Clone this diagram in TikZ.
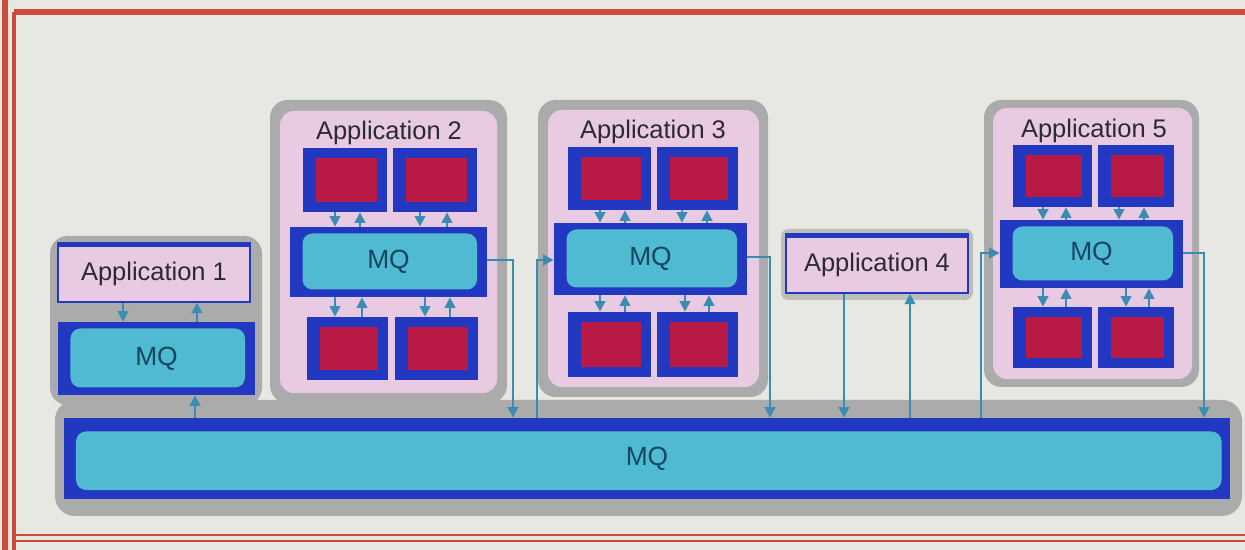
\documentclass[tikz,border=0pt]{standalone}
\usepackage{fontspec}
\setmainfont{Liberation Sans}
\usetikzlibrary{fit,arrows.meta}
\definecolor{bgc}{HTML}{E8E8E3}
\definecolor{framec}{HTML}{CC4A3C}
\definecolor{shadowc}{HTML}{ABABAB}
\definecolor{lshadowc}{HTML}{BDBDBA}
\definecolor{pinkc}{HTML}{E9CAE3}
\definecolor{bblue}{HTML}{2338C0}
\definecolor{cyanc}{HTML}{50BAD3}
\definecolor{redc}{HTML}{B81A45}
\definecolor{arrc}{HTML}{3A8CB3}
\definecolor{txtc}{HTML}{2A2A34}
\definecolor{mqtxtc}{HTML}{17465F}
\begin{document}
\begin{tikzpicture}[x=0.02cm,y=-0.02cm,
  grp/.style={fill=shadowc, rounded corners=0.35cm, inner sep=0pt},
  lgrp/.style={fill=lshadowc, rounded corners=0.15cm, inner sep=0pt},
  pinkgrp/.style={fill=pinkc, rounded corners=0.28cm, inner sep=0pt},
  apptext/.style={text=txtc, font=\fontsize{14.5}{17}\selectfont, inner sep=0pt},
  mqtext/.style={text=mqtxtc, font=\fontsize{15}{17}\selectfont, inner sep=0pt},
  pinkbox/.style={fill=pinkc, draw=bblue, line width=0.8pt, inner sep=0pt},
  minibox/.style={fill=bblue, inner sep=0pt,
    path picture={\fill[redc] ([shift={(0.26cm,-0.2cm)}]path picture bounding box.north west)
      rectangle ([shift={(-0.2cm,0.2cm)}]path picture bounding box.south east);}},
  mqbox/.style={fill=bblue, inner sep=0pt,
    path picture={\fill[cyanc, rounded corners=0.2cm] ([shift={(0.25cm,-0.13cm)}]path picture bounding box.north west)
      rectangle ([shift={(-0.2cm,0.15cm)}]path picture bounding box.south east);},
    label={[mqtext]center:MQ}},
  bigmq/.style={fill=bblue, inner sep=0pt,
    path picture={\fill[cyanc, rounded corners=0.2cm] ([shift={(0.24cm,-0.27cm)}]path picture bounding box.north west)
      rectangle ([shift={(-0.17cm,0.18cm)}]path picture bounding box.south east);},
    label={[mqtext]center:MQ}},
  arr/.style={draw=arrc, line width=1.3pt, -{Triangle[length=6pt,width=6pt]}}
]
\useasboundingbox (0,0) rectangle (1245,550);
\fill[bgc] (0,0) rectangle (1245,550);
% frame
\draw[framec, line width=3pt] (5,0) -- (5,550);
\draw[framec, line width=2pt] (14,12) -- (14,550);
\draw[framec, line width=3pt] (14,12) -- (1245,12);
\draw[framec, line width=1.2pt] (14,535) -- (1245,535);
\draw[framec, line width=1.2pt] (14,541) -- (1245,541);

% big MQ
\node[grp, rounded corners=0.4cm, fit={(55,400) (1242,516)}] (bigg) {};
\node[bigmq, fit={(64,418) (1230,499)}] (bmq) {};

% Application 1
\node[grp, fit={(50,236) (262,405)}] (a1g) {};
\node[pinkbox, fit={(58,245) (250,302)}, label={[apptext]center:Application 1}] (a1) {};
\draw[bblue, line width=2.6pt] (a1.north west) -- (a1.north east);
\node[mqbox, fit={(58,322) (255,395)}] (a1mq) {};

% Application 2
\node[grp, fit={(270,100) (507,403)}] (a2g) {};
\node[pinkgrp, fit={(280,111) (497,393)}] (a2p) {};
\node[apptext] (a2t) at (389,133) {Application 2};
\node[minibox, fit={(303,148) (387,212)}] (a2a) {};
\node[minibox, fit={(393,148) (477,212)}] (a2b) {};
\node[mqbox, fit={(290,227) (487,297)}] (a2mq) {};
\node[minibox, fit={(307,317) (388,380)}] (a2c) {};
\node[minibox, fit={(395,317) (478,380)}] (a2d) {};

% Application 3
\node[grp, fit={(538,100) (768,397)}] (a3g) {};
\node[pinkgrp, fit={(548,110) (759,387)}] (a3p) {};
\node[apptext] (a3t) at (653,132) {Application 3};
\node[minibox, fit={(568,147) (651,210)}] (a3a) {};
\node[minibox, fit={(657,147) (738,210)}] (a3b) {};
\node[mqbox, fit={(554,223) (747,295)}] (a3mq) {};
\node[minibox, fit={(568,312) (651,377)}] (a3c) {};
\node[minibox, fit={(657,312) (738,377)}] (a3d) {};

% Application 4
\node[lgrp, fit={(781,229) (973,300)}] (a4g) {};
\node[pinkbox, fit={(786,236) (968,293)}, label={[apptext]center:Application 4}] (a4) {};
\draw[bblue, line width=2.6pt] (a4.north west) -- (a4.north east);

% Application 5
\node[grp, fit={(984,100) (1199,387)}] (a5g) {};
\node[pinkgrp, fit={(993,108) (1192,379)}] (a5p) {};
\node[apptext] (a5t) at (1094,131) {Application 5};
\node[minibox, fit={(1013,145) (1092,207)}] (a5a) {};
\node[minibox, fit={(1098,145) (1174,207)}] (a5b) {};
\node[mqbox, fit={(1000,220) (1183,288)}] (a5mq) {};
\node[minibox, fit={(1013,307) (1092,368)}] (a5c) {};
\node[minibox, fit={(1098,307) (1174,368)}] (a5d) {};

% arrows App1
\draw[arr] (123,0 |- a1.south) -- (123,0 |- a1mq.north);
\draw[arr] (197,0 |- a1mq.north) -- (197,0 |- a1.south);
\draw[arr] (195,0 |- bmq.north) -- (195,0 |- a1mq.south);

% arrows App2
\draw[arr] (335,0 |- a2a.south) -- (335,0 |- a2mq.north);
\draw[arr] (360,0 |- a2mq.north) -- (360,0 |- a2a.south);
\draw[arr] (420,0 |- a2b.south) -- (420,0 |- a2mq.north);
\draw[arr] (447,0 |- a2mq.north) -- (447,0 |- a2b.south);
\draw[arr] (335,0 |- a2mq.south) -- (335,0 |- a2c.north);
\draw[arr] (362,0 |- a2c.north) -- (362,0 |- a2mq.south);
\draw[arr] (425,0 |- a2mq.south) -- (425,0 |- a2d.north);
\draw[arr] (450,0 |- a2d.north) -- (450,0 |- a2mq.south);
\draw[arr] (a2mq.east |- 0,260) -- (513,260) -- (513,0 |- bmq.north);

% arrows App3
\draw[arr] (600,0 |- a3a.south) -- (600,0 |- a3mq.north);
\draw[arr] (625,0 |- a3mq.north) -- (625,0 |- a3a.south);
\draw[arr] (682,0 |- a3b.south) -- (682,0 |- a3mq.north);
\draw[arr] (707,0 |- a3mq.north) -- (707,0 |- a3b.south);
\draw[arr] (600,0 |- a3mq.south) -- (600,0 |- a3c.north);
\draw[arr] (625,0 |- a3c.north) -- (625,0 |- a3mq.south);
\draw[arr] (685,0 |- a3mq.south) -- (685,0 |- a3d.north);
\draw[arr] (709,0 |- a3d.north) -- (709,0 |- a3mq.south);
\draw[arr] (537,0 |- bmq.north) -- (537,260) -- (a3mq.west |- 0,260);
\draw[arr] (a3mq.east |- 0,257) -- (770,257) -- (770,0 |- bmq.north);

% arrows App4
\draw[arr] (844,0 |- a4.south) -- (844,0 |- bmq.north);
\draw[arr] (910,0 |- bmq.north) -- (910,0 |- a4.south);

% arrows App5
\draw[arr] (1043,0 |- a5a.south) -- (1043,0 |- a5mq.north);
\draw[arr] (1066,0 |- a5mq.north) -- (1066,0 |- a5a.south);
\draw[arr] (1119,0 |- a5b.south) -- (1119,0 |- a5mq.north);
\draw[arr] (1144,0 |- a5mq.north) -- (1144,0 |- a5b.south);
\draw[arr] (1043,0 |- a5mq.south) -- (1043,0 |- a5c.north);
\draw[arr] (1066,0 |- a5c.north) -- (1066,0 |- a5mq.south);
\draw[arr] (1126,0 |- a5mq.south) -- (1126,0 |- a5d.north);
\draw[arr] (1149,0 |- a5d.north) -- (1149,0 |- a5mq.south);
\draw[arr] (981,0 |- bmq.north) -- (981,253) -- (a5mq.west |- 0,253);
\draw[arr] (a5mq.east |- 0,253) -- (1204,253) -- (1204,0 |- bmq.north);
\end{tikzpicture}
\end{document}
